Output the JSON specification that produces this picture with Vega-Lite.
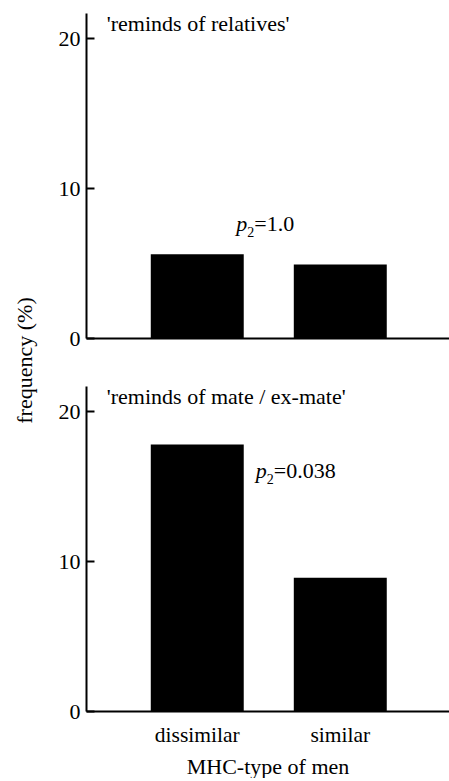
{
  "$schema": "https://vega.github.io/schema/vega-lite/v6.json",
  "padding": {"left": 13, "top": 12, "right": 0, "bottom": 0},
  "background": "white",
  "datasets": {
    "bars": [
      {"panel": "relatives", "mhc": "dissimilar", "freq": 5.6},
      {"panel": "relatives", "mhc": "similar", "freq": 4.9},
      {"panel": "mate", "mhc": "dissimilar", "freq": 17.8},
      {"panel": "mate", "mhc": "similar", "freq": 8.9}
    ],
    "notes": [
      {"panel": "relatives", "mhc": "dissimilar", "y": 7.14, "p": "p", "sub": "2", "rest": "=1.0", "head": "'reminds of relatives'", "hy": 20.5},
      {"panel": "mate", "mhc": "dissimilar", "y": 15.55, "p": "p", "sub": "2", "rest": "=0.038", "head": "'reminds of mate / ex-mate'", "hy": 20.5}
    ]
  },
  "spacing": 48,
  "bounds": "flush",
  "vconcat": [
    {
      "width": 363,
      "height": 325,
      "layer": [
        {
          "data": {"name": "bars"},
          "transform": [{"filter": "datum.panel === 'relatives'"}],
          "mark": {"type": "bar", "color": "black"},
          "encoding": {
            "x": {"field": "mhc", "type": "nominal", "scale": {"domain": ["dissimilar", "similar"], "paddingInner": 0.35, "paddingOuter": 0.444, "align": 0.51},
                  "axis": {"labels": false, "ticks": false, "title": null, "domainWidth": 2, "domainColor": "black"}},
            "y": {"field": "freq", "type": "quantitative", "scale": {"domain": [0, 21.7], "nice": false},
                  "axis": {"values": [0, 10, 20], "grid": false, "tickSize": -8, "tickWidth": 2, "tickColor": "black", "labelPadding": 14, "domainWidth": 2, "domainColor": "black",
                           "title": "frequency (%)", "titleY": 347, "titleX": -55, "titleBaseline": "alphabetic", "titleAlign": "center", "titleAngle": -90}}
          }
        },
        {
          "data": {"name": "notes"},
          "transform": [{"filter": "datum.panel === 'relatives'"}],
          "mark": {"type": "text", "align": "left", "baseline": "alphabetic", "font": "Liberation Serif, Times New Roman, Times, serif", "fontSize": 22, "color": "black"},
          "encoding": {
            "x": {"field": "mhc", "type": "nominal", "bandPosition": -0.473},
            "y": {"field": "hy", "type": "quantitative"},
            "text": {"field": "head"}
          }
        },
        {
          "data": {"name": "notes"},
          "transform": [{"filter": "datum.panel === 'relatives'"}],
          "mark": {"type": "text", "align": "left", "baseline": "alphabetic", "font": "Liberation Serif, Times New Roman, Times, serif", "fontSize": 22, "fontStyle": "italic", "color": "black"},
          "encoding": {
            "x": {"field": "mhc", "type": "nominal", "bandPosition": 0.92},
            "y": {"field": "y", "type": "quantitative"},
            "text": {"field": "p"}
          }
        },
        {
          "data": {"name": "notes"},
          "transform": [{"filter": "datum.panel === 'relatives'"}],
          "mark": {"type": "text", "align": "left", "baseline": "alphabetic", "font": "Liberation Serif, Times New Roman, Times, serif", "fontSize": 14, "dx": 11, "dy": 6, "color": "black"},
          "encoding": {
            "x": {"field": "mhc", "type": "nominal", "bandPosition": 0.92},
            "y": {"field": "y", "type": "quantitative"},
            "text": {"field": "sub"}
          }
        },
        {
          "data": {"name": "notes"},
          "transform": [{"filter": "datum.panel === 'relatives'"}],
          "mark": {"type": "text", "align": "left", "baseline": "alphabetic", "font": "Liberation Serif, Times New Roman, Times, serif", "fontSize": 22, "dx": 18, "color": "black"},
          "encoding": {
            "x": {"field": "mhc", "type": "nominal", "bandPosition": 0.92},
            "y": {"field": "y", "type": "quantitative"},
            "text": {"field": "rest"}
          }
        }
      ]
    },
    {
      "width": 363,
      "height": 325,
      "layer": [
        {
          "data": {"name": "bars"},
          "transform": [{"filter": "datum.panel === 'mate'"}],
          "mark": {"type": "bar", "color": "black"},
          "encoding": {
            "x": {"field": "mhc", "type": "nominal", "scale": {"domain": ["dissimilar", "similar"], "paddingInner": 0.35, "paddingOuter": 0.444, "align": 0.51},
                  "axis": {"ticks": false, "labelAngle": 0, "labelPadding": 13, "labelFontSize": 21.5, "domainWidth": 2, "domainColor": "black",
                           "title": "MHC-type of men", "titlePadding": 11}},
            "y": {"field": "freq", "type": "quantitative", "scale": {"domain": [0, 21.7], "nice": false},
                  "axis": {"values": [0, 10, 20], "grid": false, "tickSize": -8, "tickWidth": 2, "tickColor": "black", "labelPadding": 14, "domainWidth": 2, "domainColor": "black", "title": null}}
          }
        },
        {
          "data": {"name": "notes"},
          "transform": [{"filter": "datum.panel === 'mate'"}],
          "mark": {"type": "text", "align": "left", "baseline": "alphabetic", "font": "Liberation Serif, Times New Roman, Times, serif", "fontSize": 22, "color": "black"},
          "encoding": {
            "x": {"field": "mhc", "type": "nominal", "bandPosition": -0.473},
            "y": {"field": "hy", "type": "quantitative"},
            "text": {"field": "head"}
          }
        },
        {
          "data": {"name": "notes"},
          "transform": [{"filter": "datum.panel === 'mate'"}],
          "mark": {"type": "text", "align": "left", "baseline": "alphabetic", "font": "Liberation Serif, Times New Roman, Times, serif", "fontSize": 22, "fontStyle": "italic", "color": "black"},
          "encoding": {
            "x": {"field": "mhc", "type": "nominal", "bandPosition": 1.13},
            "y": {"field": "y", "type": "quantitative"},
            "text": {"field": "p"}
          }
        },
        {
          "data": {"name": "notes"},
          "transform": [{"filter": "datum.panel === 'mate'"}],
          "mark": {"type": "text", "align": "left", "baseline": "alphabetic", "font": "Liberation Serif, Times New Roman, Times, serif", "fontSize": 14, "dx": 11, "dy": 6, "color": "black"},
          "encoding": {
            "x": {"field": "mhc", "type": "nominal", "bandPosition": 1.13},
            "y": {"field": "y", "type": "quantitative"},
            "text": {"field": "sub"}
          }
        },
        {
          "data": {"name": "notes"},
          "transform": [{"filter": "datum.panel === 'mate'"}],
          "mark": {"type": "text", "align": "left", "baseline": "alphabetic", "font": "Liberation Serif, Times New Roman, Times, serif", "fontSize": 22, "dx": 18, "color": "black"},
          "encoding": {
            "x": {"field": "mhc", "type": "nominal", "bandPosition": 1.13},
            "y": {"field": "y", "type": "quantitative"},
            "text": {"field": "rest"}
          }
        }
      ]
    }
  ],
  "config": {
    "view": {"stroke": null},
    "font": "Liberation Serif, Times New Roman, Times, serif",
    "axis": {"labelFont": "Liberation Serif, Times New Roman, Times, serif", "labelFontSize": 22, "labelColor": "black", "titleFont": "Liberation Serif, Times New Roman, Times, serif", "titleFontSize": 22, "titleFontWeight": "normal", "titleColor": "black"}
  }
}
